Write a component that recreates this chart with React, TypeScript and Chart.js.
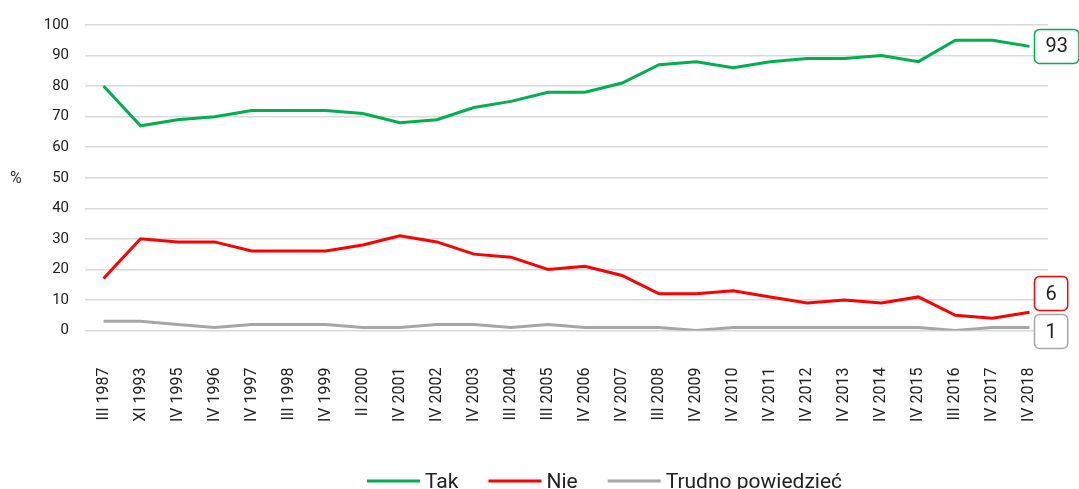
import React, { useEffect, useRef } from "react";
import { Chart, registerables } from "chart.js";

Chart.register(...registerables);

const categories = [
  "III 1987", "XI 1993", "IV 1995", "IV 1996", "IV 1997", "III 1998", "IV 1999",
  "II 2000", "IV 2001", "IV 2002", "IV 2003", "III 2004", "III 2005", "IV 2006",
  "IV 2007", "III 2008", "IV 2009", "IV 2010", "IV 2011", "IV 2012", "IV 2013",
  "IV 2014", "IV 2015", "III 2016", "IV 2017", "IV 2018",
];
const tak = [80, 67, 69, 70, 72, 72, 72, 71, 68, 69, 73, 75, 78, 78, 81, 87, 88, 86, 88, 89, 89, 90, 88, 95, 95, 93];
const nie = [17, 30, 29, 29, 26, 26, 26, 28, 31, 29, 25, 24, 20, 21, 18, 12, 12, 13, 11, 9, 10, 9, 11, 5, 4, 6];
const trudno = [3, 3, 2, 1, 2, 2, 2, 1, 1, 2, 2, 1, 2, 1, 1, 1, 0, 1, 1, 1, 1, 1, 1, 0, 1, 1];
const seriesNames = ["Tak", "Nie", "Trudno powiedzieć"];
const seriesColors = ["#00B050", "#FF0000", "#A6A6A6"];
const yMin = 0;
const yMax = 100;
const yStep = 10;
const yUnit = "%";

const FONT = "Roboto, 'Noto Sans', sans-serif";

const overlayPlugin = {
  id: "overlay",
  afterDraw(chart: any) {
    const ctx: CanvasRenderingContext2D = chart.ctx;
    const area = chart.chartArea;
    ctx.save();

    // unit label
    ctx.fillStyle = "#333333";
    ctx.font = `16px ${FONT}`;
    ctx.textAlign = "left";
    ctx.textBaseline = "middle";
    ctx.fillText(yUnit, 10, (area.top + area.bottom) / 2 + 1);

    // end labels
    ctx.font = `20px ${FONT}`;
    const h = 34;
    const gap = 4;
    const boxes: any[] = [];
    chart.data.datasets.forEach((ds: any, i: number) => {
      const meta = chart.getDatasetMeta(i);
      const last = meta.data.length - 1;
      const pt = meta.data[last];
      const text = String(ds.data[last]);
      const w = ctx.measureText(text).width + 22;
      boxes.push({ x: pt.x + 5, cy: pt.y, w, text, color: ds.borderColor });
    });
    boxes.sort((a, b) => a.cy - b.cy);
    for (let i = 1; i < boxes.length; i++) {
      const minCy = boxes[i - 1].cy + h + gap;
      if (boxes[i].cy < minCy) boxes[i].cy = minCy;
    }
    const limit = area.bottom + 18 - h / 2;
    if (boxes[boxes.length - 1].cy > limit) boxes[boxes.length - 1].cy = limit;
    for (let i = boxes.length - 2; i >= 0; i--) {
      const maxCy = boxes[i + 1].cy - h - gap;
      if (boxes[i].cy > maxCy) boxes[i].cy = maxCy;
    }
    boxes.forEach((b) => {
      const top = b.cy - h / 2;
      ctx.beginPath();
      (ctx as any).roundRect(b.x, top, b.w, h, 5);
      ctx.fillStyle = "#ffffff";
      ctx.fill();
      ctx.lineWidth = 1.5;
      ctx.strokeStyle = b.color;
      ctx.stroke();
      ctx.fillStyle = "#222222";
      ctx.textAlign = "center";
      ctx.textBaseline = "middle";
      ctx.fillText(b.text, b.x + b.w / 2, b.cy + 1);
    });

    // legend
    ctx.font = `21px ${FONT}`;
    ctx.textAlign = "left";
    ctx.textBaseline = "alphabetic";
    let x = 367;
    const lineY = 481;
    seriesNames.forEach((name, i) => {
      ctx.beginPath();
      ctx.moveTo(x, lineY);
      ctx.lineTo(x + 53, lineY);
      ctx.lineWidth = 3;
      ctx.strokeStyle = seriesColors[i];
      ctx.stroke();
      x += 58;
      ctx.fillStyle = "#222222";
      ctx.fillText(name, x, 488);
      x += ctx.measureText(name).width + 30;
    });

    ctx.restore();
  },
};

export default function App() {
  const canvasRef = useRef<HTMLCanvasElement | null>(null);

  useEffect(() => {
    if (!canvasRef.current) return;
    const values = [tak, nie, trudno];
    const chart = new Chart(canvasRef.current, {
      type: "line",
      data: {
        labels: categories,
        datasets: values.map((d, i) => ({
          label: seriesNames[i],
          data: d,
          borderColor: seriesColors[i],
          backgroundColor: seriesColors[i],
          borderWidth: 3,
          pointRadius: 0,
          tension: 0,
          fill: false,
        })),
      },
      options: {
        animation: false,
        responsive: true,
        maintainAspectRatio: false,
        layout: { padding: { top: 22, right: 31, left: 0, bottom: 0 } },
        plugins: {
          legend: { display: false },
          tooltip: { enabled: false },
        },
        scales: {
          x: {
            offset: true,
            grid: { display: false, drawTicks: false },
            border: { display: false },
            ticks: {
              autoSkip: false,
              minRotation: 90,
              maxRotation: 90,
              padding: 37,
              color: "#222222",
              font: { family: FONT, size: 16 },
            },
            afterFit: (scale: any) => {
              scale.height = 158.5;
              scale.paddingLeft = 0;
              scale.paddingRight = 0;
            },
          },
          y: {
            min: yMin,
            max: yMax,
            ticks: {
              stepSize: yStep,
              padding: 16,
              color: "#222222",
              font: { family: FONT, size: 15 },
            },
            grid: { color: "#D9D9D9", lineWidth: 1.5, drawTicks: false },
            border: { display: false },
            afterFit: (scale: any) => {
              scale.width = 85;
            },
          },
        },
      },
      plugins: [overlayPlugin],
    });
    return () => chart.destroy();
  }, []);

  return (
    <div style={{ position: "absolute", left: 0, top: 0, width: 1079, height: 489, background: "#ffffff" }}>
      <canvas ref={canvasRef} />
    </div>
  );
}
